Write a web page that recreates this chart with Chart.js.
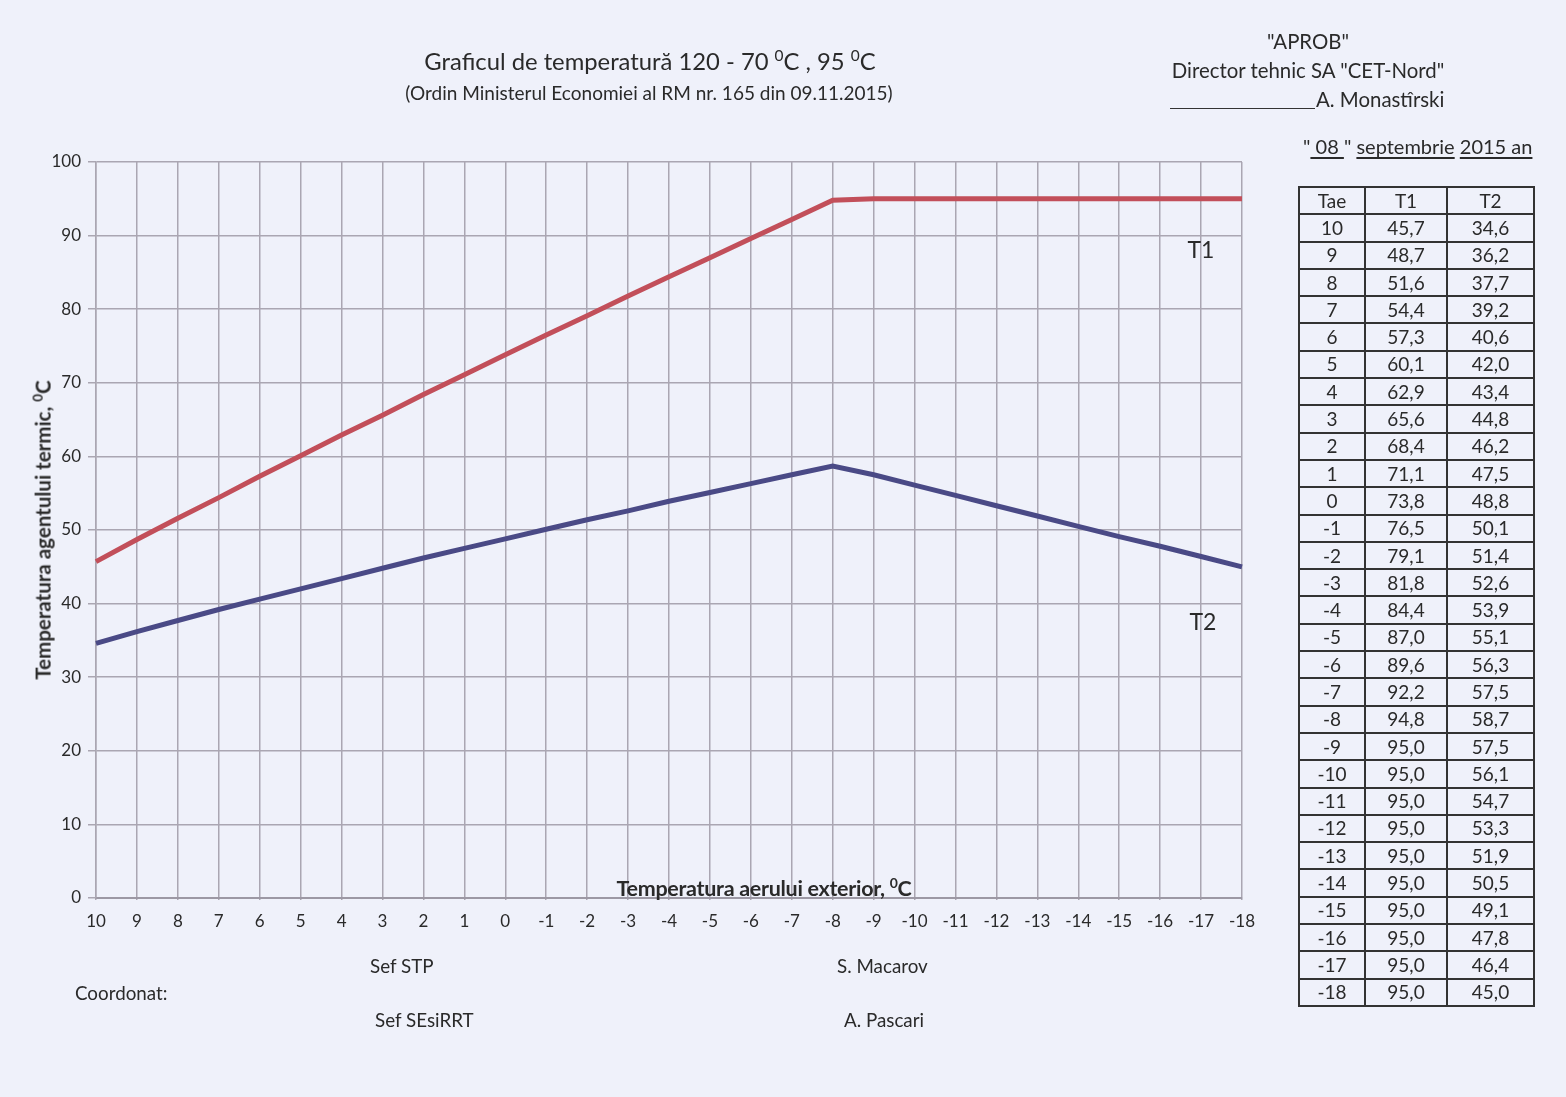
<!DOCTYPE html>
<html>
<head>
<meta charset="utf-8">
<script src="https://cdn.jsdelivr.net/npm/chart.js@4/dist/chart.umd.min.js"></script>
<style>
  html, body { margin: 0; padding: 0; }
  body {
    width: 1566px; height: 1097px; position: relative; overflow: hidden;
    background: #eff1fa; font-family: Lato, "Open Sans", sans-serif; color: #2a2a2a;
  }
  #wrap { position: absolute; left: 0; top: 0; width: 1566px; height: 1097px; }
  .t { position: absolute; white-space: nowrap; }
  sup { font-size: 0.65em; }
  .c { transform: translateX(-50%); text-align: center; }
  table.tbl {
    position: absolute; left: 1298px; top: 186px; width: 237px;
    border-collapse: collapse; font-size: 19px;
  }
  table.tbl tr { height: 27.3px; }
  table.tbl td { border: 2px solid #333; padding: 0; text-align: center; line-height: 22px; }
  u { text-underline-offset: 3px; }
</style>
</head>
<body>
<div id="wrap"><canvas id="myChart" width="1566" height="1097"></canvas></div>

<div class="t c" style="left:650px; top:46px; font-size:23.8px;">Graficul de temperatură 120 - 70 <sup>0</sup>C , 95 <sup>0</sup>C</div>
<div class="t c" style="left:649px; top:81px; font-size:19px;">(Ordin Ministerul Economiei al RM nr. 165 din 09.11.2015)</div>

<div class="t c" style="left:1308px; top:29px; font-size:20.4px;">"APROB"</div>
<div class="t c" style="left:1308px; top:58px; font-size:20.4px;">Director tehnic SA "CET-Nord"</div>
<div class="t" style="left:1170px; top:108px; width:145px; border-top:1px solid #333;"></div>
<div class="t" style="left:1316px; top:87px; font-size:20.4px;">A. Monastîrski</div>
<div class="t" style="left:1303px; top:134px; font-size:20px;">"<u>&nbsp;08&nbsp;</u>" <u>septembrie</u> <u>2015 an</u></div>

<div class="t c" style="left:764px; top:874px; font-size:21.5px; font-weight:bold; letter-spacing:-0.3px;">Temperatura aerului exterior, <sup>0</sup>C</div>
<div class="t" style="left:42px; top:530px; font-size:20.5px; font-weight:bold; transform: translate(-50%,-50%) rotate(-90deg);">Temperatura agentului termic, <sup>0</sup>C</div>

<div class="t c" style="left:1201px; top:235px; font-size:23px;">T1</div>
<div class="t c" style="left:1203px; top:607px; font-size:23px;">T2</div>

<div class="t" style="left:370px; top:954px; font-size:18.8px;">Sef STP</div>
<div class="t" style="left:75px; top:981px; font-size:18.8px;">Coordonat:</div>
<div class="t" style="left:375px; top:1008px; font-size:18.8px;">Sef SEsiRRT</div>
<div class="t" style="left:837px; top:954px; font-size:18.8px;">S. Macarov</div>
<div class="t" style="left:844px; top:1008px; font-size:18.8px;">A. Pascari</div>

<table class="tbl" id="tbl"></table>

<script>
// outdoor temperature (Tae), supply T1, return T2
const tae = ["10", "9", "8", "7", "6", "5", "4", "3", "2", "1", "0", "-1", "-2", "-3", "-4",
  "-5", "-6", "-7", "-8", "-9", "-10", "-11", "-12", "-13", "-14", "-15", "-16", "-17", "-18"]
const t1 = [45.7, 48.7, 51.6, 54.4, 57.3, 60.1, 62.9, 65.6, 68.4, 71.1, 73.8, 76.5, 79.1, 81.8, 84.4,
  87.0, 89.6, 92.2, 94.8, 95.0, 95.0, 95.0, 95.0, 95.0, 95.0, 95.0, 95.0, 95.0, 95.0]
const t2 = [34.6, 36.2, 37.7, 39.2, 40.6, 42.0, 43.4, 44.8, 46.2, 47.5, 48.8, 50.1, 51.4, 52.6, 53.9,
  55.1, 56.3, 57.5, 58.7, 57.5, 56.1, 54.7, 53.3, 51.9, 50.5, 49.1, 47.8, 46.4, 45.0]
const yTicks = [0, 10, 20, 30, 40, 50, 60, 70, 80, 90, 100]

// table on the right
const tbl = document.getElementById("tbl")
let html = "<tr><td>Tae</td><td>T1</td><td>T2</td></tr>"
tae.forEach((t, i) => {
  html += `<tr><td style="width:64px">${t}</td><td style="width:80px">${t1[i].toFixed(1).replace(".", ",")}</td><td>${t2[i].toFixed(1).replace(".", ",")}</td></tr>`
})
tbl.innerHTML = html

const gridColor = "#aaa6b2"
const ctx = document.getElementById("myChart")
const myChart = new Chart(ctx, {
  type: "line",
  data: {
    labels: tae,
    datasets: [{
      label: "T1",
      data: t1,
      borderColor: "#c24f5a",
      borderWidth: 5,
      pointRadius: 0,
      tension: 0
    }, {
      label: "T2",
      data: t2,
      borderColor: "#4a4a86",
      borderWidth: 5,
      pointRadius: 0,
      tension: 0
    }]
  },
  options: {
    responsive: false,
    animation: false,
    layout: { padding: { top: 162, right: 324, bottom: 159, left: 0 } },
    plugins: { legend: { display: false }, tooltip: { enabled: false } },
    scales: {
      x: {
        offset: false,
        afterFit: (s) => { s.height = 40 },
        grid: { color: gridColor, lineWidth: 1.5, tickLength: 2, drawTicks: true },
        border: { color: "#9c98a4", width: 2 },
        ticks: {
          color: "#2a2a2a", font: { family: "Lato", size: 17 }, padding: 11,
          maxRotation: 0, autoSkip: false
        }
      },
      y: {
        min: 0,
        max: 100,
        afterFit: (s) => { s.width = 96 },
        afterBuildTicks: (s) => { s.ticks = yTicks.map(v => ({ value: v })) },
        grid: { color: gridColor, lineWidth: 1.5, tickLength: 8 },
        border: { color: gridColor, width: 1.5 },
        ticks: { color: "#2a2a2a", font: { family: "Lato", size: 17 }, padding: 7 }
      }
    }
  }
})
</script>
</body>
</html>
